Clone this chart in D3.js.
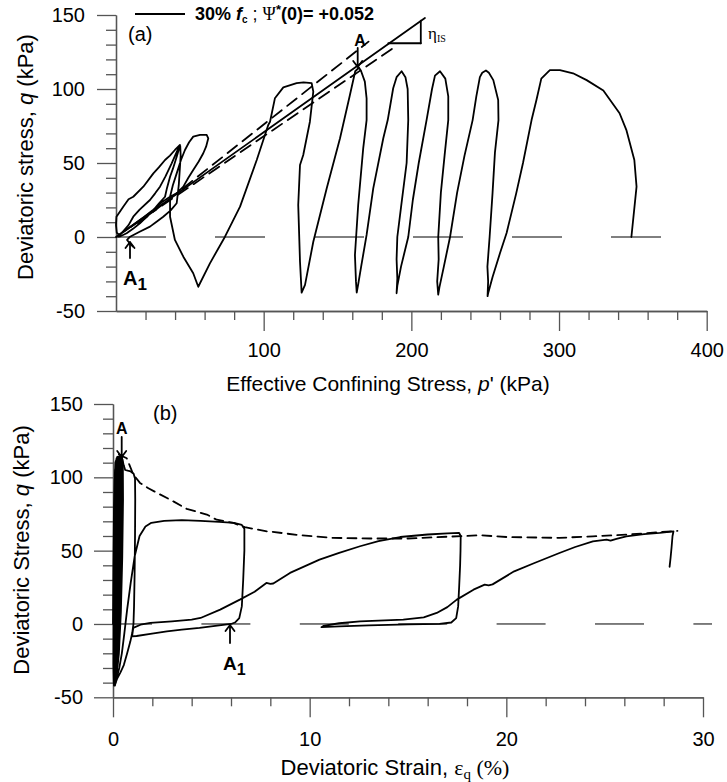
<!DOCTYPE html>
<html>
<head>
<meta charset="utf-8">
<script src="https://cdn.jsdelivr.net/npm/d3@7"></script>
<style>
  body { margin: 0; background: #fff; }
  text { font-family: Arial, "Liberation Sans", sans-serif; fill: #000; }
  .axis path, .axis line { stroke: #555; stroke-width: 1.3; }
  .axis text { font-size: 20px; fill: #000; }
  .curve { fill: none; stroke: #000; stroke-width: 1.8; stroke-linejoin: round; stroke-linecap: round; }
</style>
</head>
<body>
<script>
// ---- panel (a): effective stress path, [p' (kPa), q (kPa)] ----
const pathA = [
  [349, 0], [352.5, 34], [351, 52], [345.7, 72], [341, 83.6], [330, 99], [318.7, 106], [309.5, 110.6],
  [300.6, 112.8], [293.8, 112.8], [288, 107], [284.7, 92.6], [281.4, 79], [275.6, 50], [271, 29.5],
  [264.5, 2.7], [260, -11], [255, -27], [252, -38], [251.6, -40],
  [252, -30], [251.5, -20], [253, 0], [255, 30], [256.6, 57], [259, 79], [258.8, 92.6], [255.5, 106],
  [252.5, 111], [250.5, 112.5], [248, 111], [246.4, 108], [244, 95], [241.5, 79], [236, 55], [231, 30],
  [226.2, 0], [222, -20], [219, -34], [218.2, -39],
  [217.5, -30], [218.5, -15], [218.2, 0], [220, 30], [222.5, 55], [225, 79], [225, 95], [223, 107],
  [219.4, 112], [216, 109], [214, 100], [210.3, 79], [205, 50], [201, 25], [197.9, 0], [193, -20],
  [190.5, -33], [190, -38],
  [190.5, -28], [190, -15], [190.5, 0], [193, 20], [196.8, 50], [197.9, 79], [197.5, 100], [196, 108],
  [193.4, 112], [190, 108], [187.7, 100.5], [184, 79], [181, 66.7], [174.2, 32.9], [169.7, 1.4],
  [166, -20], [164, -32], [163, -37.5],
  [162.5, -30], [161.8, -12.2], [164, 21.6], [167.4, 59.9], [169.7, 79], [169.7, 93.7], [168.5, 105],
  [166, 112], [164.5, 114.5], [162, 112], [158.4, 95.9], [151.7, 66.7], [142.7, 32.9], [133.6, -3.2],
  [128, -32.4], [125.7, -37.6],
  [124.6, -16.7], [123.4, 21.6], [124.6, 48.6], [126.8, 55.4], [131.3, 77.9], [133.6, 98.2],
  [132.5, 103.9], [127, 104.5], [122.3, 104], [113.3, 101.1], [107.6, 93.7], [104.3, 77.9],
  [103.1, 75.7], [95.3, 52], [84, 20.5], [73.8, 0.2], [63.6, -17.8], [55.7, -33.6],
  [52.3, -24.5], [45.6, -13.3], [39.9, -2], [36.6, 13.7], [36.6, 27.2],
  [38.5, 35], [41.1, 43], [44, 52], [46.7, 58.8], [49.5, 64], [52.3, 67.8], [56.9, 69], [61.4, 69],
  [62.5, 66.7], [61, 61], [59.1, 56.6], [56, 51], [52.3, 45.3], [49, 40], [45.6, 34], [41, 29.5],
  [36.6, 27.2], [31, 23.5], [25.3, 18.5], [19, 13.5], [12, 8.5], [6, 4], [2, 1.5], [0.5, 3], [0, 8],
  [0.3, 13.7], [4.9, 20.5], [8.5, 25.5], [11.7, 27.2], [18.5, 34], [25.3, 43], [29, 47], [33.2, 52],
  [36.5, 55], [39.9, 58.8], [43.3, 62.2], [42.2, 58], [41.1, 54.3], [38.5, 46], [36.6, 40.7],
  [34.5, 33], [33.2, 27.2], [29, 22.5], [25.3, 18.2], [20.5, 13.5], [16.2, 9.3], [11.5, 5.5],
  [7.2, 2.5], [3, 0.5], [1.6, 0.2],
  [5, 4], [8.5, 8], [11.7, 13.7], [16, 18.5], [23, 25], [26.5, 29.5], [29.8, 34], [33.5, 41],
  [37.7, 49.8], [40, 55], [42.2, 59.9], [43.5, 61.5],
  [43.8, 55], [42.5, 35], [41.1, 22.8], [37, 18], [32, 13.7], [27, 10], [23, 7], [16, 3.5],
  [9.5, 0.2], [7.5, -2], [9.5, -4.5], [11.5, -6.5]
];
const etaLine = [[0, 0], [209.2, 148]];
const etaStepH = [[184.4, 130.9], [206.4, 130.9]];
const etaStepV = [[206.4, 130.9], [206.4, 146.1]];
const upperBound = [[15, 9], [171, 132]];
const lowerBound = [[10, 6.8], [190, 129.2]];

// ---- panel (b): q vs deviatoric strain, [eps_q (%), q (kPa)] ----
// cycles before point A
const cyclicB = [
  [0.0, 0], [0.02, 40], [0.05, 80], [0.1, 105], [0.18, 113], [0.27, 113], [0.3, 100], [0.28, 60],
  [0.24, 20], [0.18, -10], [0.12, -32], [0.06, -41],
  [0.04, -30], [0.05, 0], [0.07, 40], [0.1, 80], [0.15, 106], [0.25, 113], [0.36, 112], [0.38, 90],
  [0.35, 50], [0.3, 10], [0.22, -20], [0.12, -37], [0.05, -42],
  [0.08, -32], [0.1, -5], [0.12, 35], [0.15, 75], [0.2, 104], [0.3, 114], [0.42, 112], [0.43, 85],
  [0.39, 45], [0.33, 8], [0.24, -22], [0.13, -38], [0.04, -41],
  [0.02, -28], [0.03, 10], [0.04, 50], [0.07, 90], [0.12, 110], [0.22, 114], [0.35, 113], [0.46, 111],
  [0.47, 88], [0.43, 50], [0.36, 12], [0.27, -18], [0.16, -35], [0.08, -41],
  [0.12, -30], [0.16, -5], [0.19, 30], [0.22, 70], [0.26, 100], [0.32, 113], [0.44, 114], [0.5, 110],
  [0.51, 85], [0.47, 45], [0.4, 8], [0.3, -20], [0.18, -36], [0.1, -42],
  [0.06, -34], [0.07, -5], [0.09, 35], [0.12, 75], [0.17, 104], [0.26, 114], [0.38, 114], [0.48, 112],
  [0.49, 92], [0.45, 55], [0.38, 15], [0.28, -15], [0.17, -34], [0.07, -40],
  [0.1, -25], [0.13, 10], [0.17, 50], [0.22, 88], [0.28, 108], [0.36, 114], [0.45, 113.5]
];
// from A onwards
const pathB = [
  [0.45, 113.5], [0.55, 108], [0.62, 105], [0.75, 104.5], [0.9, 104], [1.05, 102.5], [1.12, 99],
  [1.13, 85], [1.12, 60], [1.1, 35], [1.07, 12], [1.04, 0], [0.98, -6], [0.88, -12], [0.72, -20],
  [0.55, -28], [0.38, -33], [0.22, -37], [0.12, -40.5],
  [0.2, -36], [0.32, -30], [0.45, -20], [0.58, -6], [0.72, 10], [0.9, 28], [1.1, 46], [1.35, 60],
  [1.65, 66.5], [1.95, 69], [2.6, 70.3], [3.5, 70.8], [4.45, 70.3], [5.4, 69.6], [6.15, 68.9],
  [6.55, 67.5], [6.68, 65], [6.68, 50], [6.62, 30], [6.55, 12], [6.42, 4], [6.2, 1], [6.0, 0],
  [5.2, -1.3], [4.4, -2.7], [3.5, -3.8], [2.74, -5], [1.9, -6.8], [1.2, -8.2], [0.97, -8.5],
  [1.03, -2.7], [1.4, -0.5], [1.9, 0.7], [3.0, 1.8], [4.0, 3], [4.45, 4.1], [5.45, 9.8], [6.45, 16.6],
  [7.2, 22], [7.8, 28], [8.0, 27.3], [8.15, 27.6], [9.0, 34.8], [10.5, 43.9], [11.5, 48.5],
  [12.56, 53], [13.5, 56.5], [14.6, 59.3], [16.0, 61], [17.0, 61.8], [17.6, 62.1],
  [17.68, 60], [17.67, 50], [17.65, 40], [17.6, 25], [17.55, 12], [17.45, 4], [17.2, 1], [16.6, 0],
  [15.0, -0.3], [13.0, -1], [11.5, -1.7], [10.6, -2.2],
  [10.7, -1.3], [11.5, 0.5], [12.56, 1.8], [14.76, 2.9], [15.8, 4.5], [16.46, 7.5], [17.0, 11.5],
  [17.48, 16.6], [18.33, 23.4], [18.9, 26.8], [19.1, 26.3], [19.3, 27], [20.4, 35.9], [21.4, 41.4],
  [22.7, 48.4], [23.5, 52.5], [24.4, 56.3], [25.1, 57.5], [25.3, 56.8], [25.6, 58], [26.1, 59.8],
  [27.0, 61.3], [27.8, 62.1], [28.5, 63.2],
  [28.45, 60], [28.4, 52], [28.35, 45], [28.3, 39]
];
const peakEnvelope = [
  [0.3, 115.5], [0.7, 113], [1.03, 102], [1.37, 96.2], [1.8, 92.5], [2.3, 89], [3.07, 83.6],
  [3.75, 78.5], [4.77, 74.6], [5.27, 71.1], [6.12, 68.9], [6.7, 66], [7.82, 63.2], [8.6, 62],
  [9.5, 60.5], [11.2, 58.7], [13.07, 58.3], [15, 58.3], [17, 59.5], [18.7, 60.5], [20, 59.3],
  [22.7, 58.7], [24.4, 59.8], [26.1, 60.9], [28.7, 63.5]
];

// axis ticks
const xaMajor = [100, 200, 300, 400];
const xbMajor = [0, 10, 20, 30];
const qMajor = [-50, 0, 50, 100, 150];

const svg = d3.select('body').append('svg')
  .attr('width', 727)
  .attr('height', 782);
svg.append('rect').attr('width', 727).attr('height', 782).attr('fill', '#fff');

const xa = d3.scaleLinear().domain([0, 400]).range([116, 706.7]);
const ya = d3.scaleLinear().domain([-50, 150]).range([311, 15]);
const xb = d3.scaleLinear().domain([0, 30]).range([113, 703]);
const yb = d3.scaleLinear().domain([-50, 150]).range([697.3, 404]);

const fmt = d => String(d);

function drawAxes(x, y, xMajor, xMinor, xPad, yPad) {
  svg.append('g').attr('class', 'axis')
    .attr('transform', `translate(0,${y.range()[0]})`)
    .call(d3.axisBottom(x).tickValues(xMinor).tickSize(9).tickFormat('').tickSizeOuter(0));
  svg.append('g').attr('class', 'axis')
    .attr('transform', `translate(0,${y.range()[0]})`)
    .call(d3.axisBottom(x).tickValues(xMajor).tickSize(20).tickPadding(xPad).tickFormat(fmt).tickSizeOuter(0));
  const yMinor = d3.range(-40, 150, 10).filter(v => v % 50 !== 0);
  svg.append('g').attr('class', 'axis')
    .attr('transform', `translate(${x.range()[0]},0)`)
    .call(d3.axisLeft(y).tickValues(yMinor).tickSize(10).tickFormat('').tickSizeOuter(0));
  svg.append('g').attr('class', 'axis')
    .attr('transform', `translate(${x.range()[0]},0)`)
    .call(d3.axisLeft(y).tickValues(qMajor).tickSize(19).tickPadding(yPad).tickFormat(fmt).tickSizeOuter(0));
}

drawAxes(xa, ya, xaMajor, d3.range(20, 400, 20).filter(v => v % 100 !== 0), 12, 12);
drawAxes(xb, yb, xbMajor, d3.range(2, 30, 2).filter(v => v % 10 !== 0), 15, 11);

// zero reference lines
svg.append('line')
  .attr('x1', xa(0)).attr('x2', xa(400) + 2)
  .attr('y1', ya(0)).attr('y2', ya(0))
  .attr('stroke', '#000').attr('stroke-width', 1)
  .attr('stroke-dasharray', '50,49');
svg.append('line')
  .attr('x1', xb(0)).attr('x2', xb(30) + 9)
  .attr('y1', yb(0)).attr('y2', yb(0))
  .attr('stroke', '#000').attr('stroke-width', 1)
  .attr('stroke-dasharray', '49,49.4')
  .attr('stroke-dashoffset', 10);

const lineA = d3.line().x(d => xa(d[0])).y(d => ya(d[1]));
const lineB = d3.line().x(d => xb(d[0])).y(d => yb(d[1]));

// panel (a) curves
svg.append('path').attr('class', 'curve').attr('d', lineA(pathA));
svg.append('path').attr('class', 'curve').attr('d', lineA(etaLine));
svg.append('path').attr('class', 'curve').attr('d', lineA(etaStepH));
svg.append('path').attr('class', 'curve').attr('d', lineA(etaStepV));
[upperBound, lowerBound].forEach(seg => {
  svg.append('path').attr('class', 'curve')
    .attr('stroke-dasharray', '12,7')
    .attr('d', lineA(seg));
});

// panel (b) curves
svg.append('path').attr('class', 'curve').attr('stroke-width', 2.2).attr('d', lineB(cyclicB));
svg.append('path').attr('class', 'curve').attr('d', lineB(pathB));
svg.append('path').attr('class', 'curve')
  .attr('stroke-width', 2)
  .attr('stroke-dasharray', '9,6')
  .attr('d', lineB(peakEnvelope));

// arrows
function arrow(x, y1, y2) {
  const dir = y2 > y1 ? -1 : 1;
  svg.append('path').attr('class', 'curve').attr('stroke-width', 1.3)
    .attr('d', `M${x},${y1}V${y2}M${x - 4.5},${y2 + dir * 6}L${x},${y2}L${x + 4.5},${y2 + dir * 6}`);
}
arrow(357.7, 48, 67);
arrow(130, 258, 242);
arrow(121.7, 437, 457);
arrow(230, 643, 625);

// labels
function label(x, y, txt, size, anchor) {
  return svg.append('text').attr('x', x).attr('y', y)
    .attr('font-size', size).attr('text-anchor', anchor || 'start').text(txt);
}
label(128, 41, '(a)', 20);
label(153, 420, '(b)', 20);

label(360, 46, 'A', 16, 'middle').attr('font-weight', 'bold');
label(121.7, 434, 'A', 16, 'middle').attr('font-weight', 'bold');
const a1a = label(123, 285, 'A', 20).attr('font-weight', 'bold');
a1a.append('tspan').attr('dy', 5).attr('font-size', 17).text('1');
const a1b = label(223, 670, 'A', 19).attr('font-weight', 'bold');
a1b.append('tspan').attr('dy', 5).attr('font-size', 16).text('1');

// eta_IS
const eta = svg.append('text').attr('x', 428).attr('y', 39)
  .attr('font-size', 17).style('font-family', '"Liberation Serif", "Times New Roman", serif').text('η');
eta.append('tspan').attr('font-size', 10).attr('dy', 3).text('IS');

// legend
svg.append('line').attr('x1', 135).attr('x2', 185).attr('y1', 14).attr('y2', 14)
  .attr('stroke', '#000').attr('stroke-width', 2);
const leg = svg.append('text').attr('x', 195).attr('y', 20)
  .attr('font-size', 18).attr('font-weight', 'bold').text('30% ');
leg.append('tspan').attr('font-style', 'italic').text('f');
leg.append('tspan').attr('font-size', 10).attr('dy', 3).text('c');
leg.append('tspan').attr('dy', -3).attr('font-weight', 'normal').text(' ; ');
leg.append('tspan').attr('font-weight', 'normal')
  .style('font-family', '"Liberation Serif", "Times New Roman", serif').text('Ψ');
leg.append('tspan').attr('font-size', 13).attr('dy', -6).text('*');
leg.append('tspan').attr('dy', 6).text('(0)= +0.052');

// axis titles
const xtA = label(388, 391, 'Effective Confining Stress, ', 21, 'middle');
xtA.append('tspan').attr('font-style', 'italic').text('p');
xtA.append('tspan').text("' (kPa)");

const xtB = label(395, 775, 'Deviatoric Strain, ', 22, 'middle');
xtB.append('tspan').style('font-family', '"Liberation Serif", "Times New Roman", serif').text('ε');
xtB.append('tspan').style('font-family', '"Liberation Serif", "Times New Roman", serif')
  .attr('font-size', 15).attr('dy', 4).text('q');
xtB.append('tspan').style('font-family', '"Liberation Serif", "Times New Roman", serif')
  .attr('dy', -4).text(' (%)');

const ytA = svg.append('text')
  .attr('transform', 'translate(33,157) rotate(-90)')
  .attr('text-anchor', 'middle').attr('font-size', 22)
  .text('Deviatoric stress, ');
ytA.append('tspan').attr('font-style', 'italic').text('q');
ytA.append('tspan').text(' (kPa)');

const ytB = svg.append('text')
  .attr('transform', 'translate(29,550) rotate(-90)')
  .attr('text-anchor', 'middle').attr('font-size', 22)
  .text('Deviatoric Stress, ');
ytB.append('tspan').attr('font-style', 'italic').text('q');
ytB.append('tspan').text(' (kPa)');
</script>
</body>
</html>
